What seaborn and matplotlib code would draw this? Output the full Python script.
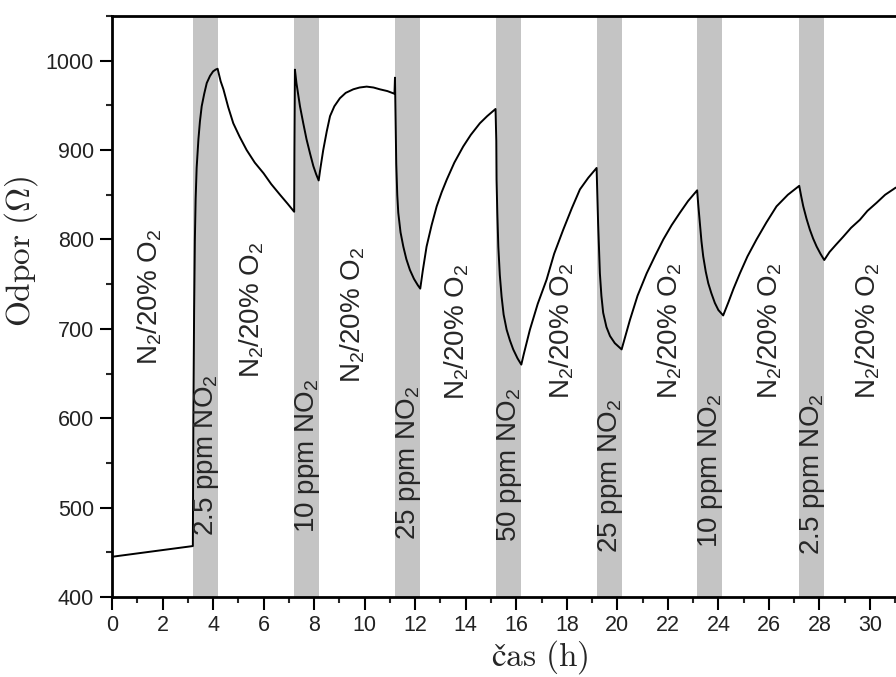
import numpy as np
import pandas as pd
import matplotlib
matplotlib.use('Agg')
import matplotlib.pyplot as plt
import seaborn as sns
from matplotlib.ticker import MultipleLocator

# Time (h) and resistance (Ohm)
time_h = [
    0, 3.2, 3.21, 3.22, 3.25, 3.28, 3.31, 3.35, 3.42, 3.48, 3.55, 3.65,
    3.75, 3.88, 4.0, 4.1, 4.18,
    4.25, 4.3, 4.41, 4.6, 4.8, 5.05, 5.33, 5.65, 6.0, 6.3, 6.65, 6.95, 7.21,
    7.22, 7.24, 7.3, 7.44, 7.57, 7.7, 7.84, 7.97, 8.08, 8.18,
    8.25, 8.36, 8.5, 8.63, 8.8, 9.02, 9.25, 9.55, 9.8, 10.08, 10.35, 10.6,
    10.9, 11.18,
    11.2, 11.22, 11.25, 11.29, 11.33, 11.42, 11.53, 11.65, 11.79, 11.95,
    12.1, 12.2,
    12.3, 12.45, 12.65, 12.85, 13.05, 13.25, 13.55, 13.9, 14.2, 14.56,
    14.85, 15.18,
    15.21, 15.22, 15.25, 15.29, 15.35, 15.42, 15.5, 15.62, 15.75, 15.88,
    16.05, 16.2,
    16.3, 16.54, 16.85, 17.2, 17.5, 17.86, 18.2, 18.52, 18.85, 19.18,
    19.21, 19.24, 19.31, 19.37, 19.44, 19.57, 19.71, 19.9, 20.17,
    20.3, 20.5, 20.8, 21.16, 21.5, 21.82, 22.15, 22.48, 22.8, 23.16,
    23.2, 23.27, 23.33, 23.4, 23.5, 23.6, 23.72, 23.86, 24.0, 24.19,
    24.4, 24.6, 24.85, 25.15, 25.51, 25.9, 26.3, 26.75, 27.2,
    27.28, 27.36, 27.49, 27.62, 27.75, 27.89, 28.04, 28.19,
    28.4, 28.65, 28.94, 29.25, 29.6, 29.9, 30.26, 30.6, 31.02,
]
resistance = [
    445, 457, 520, 600, 720, 800, 845, 880, 912, 932, 949, 963,
    975, 983, 988, 990, 991,
    983, 977, 968, 948, 930, 915, 900, 886, 874, 862, 850, 840, 831,
    900, 990, 975, 949, 930, 912, 896, 882, 873, 866,
    880, 900, 921, 938, 949, 958, 964, 968, 970, 971, 970, 968,
    966, 963,
    981, 940, 885, 850, 830, 808, 792, 778, 766, 756,
    749, 745,
    765, 792, 816, 837, 853, 867, 886, 904, 917, 930,
    938, 946,
    910, 867, 830, 792, 760, 736, 716, 699, 687, 677,
    667, 660,
    672, 699, 728, 755, 784, 811, 835, 856, 869, 880,
    850, 818, 762, 737, 718, 702, 692, 684, 677,
    690, 710, 737, 762, 782, 800, 816, 830, 843, 855,
    840, 818, 798, 781, 764, 751, 740, 729, 721, 715,
    730, 745, 762, 781, 800, 819, 837, 850, 860,
    848, 837, 823, 811, 801, 792, 784, 777,
    786, 794, 803, 813, 822, 832, 841, 850, 858,
]

# NO2 exposure windows (start, h) and their labels
band_starts = [3.2, 7.2, 11.2, 15.2, 19.2, 23.15, 27.2]
band_width = 1.0
no2_labels = ['2.5 ppm NO$_2$', '10 ppm NO$_2$', '25 ppm NO$_2$', '50 ppm NO$_2$',
              '25 ppm NO$_2$', '10 ppm NO$_2$', '2.5 ppm NO$_2$']
no2_label_y = [559, 558, 550, 548, 535, 541, 538]

# Air label positions
air_label = 'N$_2$/20% O$_2$'
air_label_x = [1.5, 5.54, 9.54, 13.65, 17.8, 22.08, 26.04, 29.92]
air_label_y = [736, 721, 716, 697, 698, 698, 698, 698]

sns.set_style('ticks')
plt.rcParams['font.family'] = ['Liberation Sans', 'DejaVu Sans']
plt.rcParams['mathtext.fontset'] = 'custom'
plt.rcParams['mathtext.rm'] = 'Liberation Sans'
plt.rcParams['mathtext.it'] = 'Liberation Sans:italic'
plt.rcParams['mathtext.bf'] = 'Liberation Sans:bold'

fig = plt.figure(figsize=(8.96, 6.77), dpi=100)
ax = fig.add_axes([112 / 896, 80 / 677, 784 / 896, 581 / 677])

for start in band_starts:
    ax.axvspan(start, start + band_width, color='#c4c4c4', lw=0, zorder=0)

df = pd.DataFrame({'time': time_h, 'R': resistance})
sns.lineplot(data=df, x='time', y='R', color='black', lw=1.4,
             estimator=None, sort=False, ax=ax, zorder=3)

for start, lab, y in zip(band_starts, no2_labels, no2_label_y):
    ax.text(start + band_width / 2 + 0.03, y, lab, rotation=90,
            ha='center', va='center', fontsize=20, zorder=4)
for x, y in zip(air_label_x, air_label_y):
    ax.text(x, y, air_label, rotation=90, ha='center', va='center',
            fontsize=20, zorder=4)

ax.set_xlim(0, 31.03)
ax.set_ylim(400, 1050)
ax.xaxis.set_major_locator(MultipleLocator(2))
ax.xaxis.set_minor_locator(MultipleLocator(1))
ax.yaxis.set_major_locator(MultipleLocator(100))
ax.yaxis.set_minor_locator(MultipleLocator(50))
ax.tick_params(which='major', length=9, width=1.5, labelsize=15.5, pad=4,
               direction='out', color='black', labelcolor='#222222')
ax.tick_params(which='minor', length=4.5, width=1.5, direction='out')
ax.spines['right'].set_visible(False)
for side in ['left', 'bottom', 'top']:
    ax.spines[side].set_linewidth(2)
    ax.spines[side].set_color('black')

ax.set_xlabel(r'$\mathrm{čas\ (h)}$', fontsize=24, math_fontfamily='cm')
ax.set_ylabel(r'$\mathrm{Odpor\ (\Omega)}$', fontsize=24, math_fontfamily='cm')
ax.xaxis.set_label_coords(0.546, -0.071)
ax.yaxis.set_label_coords(-0.092, 0.594)

fig.savefig('out.png', dpi=100)
